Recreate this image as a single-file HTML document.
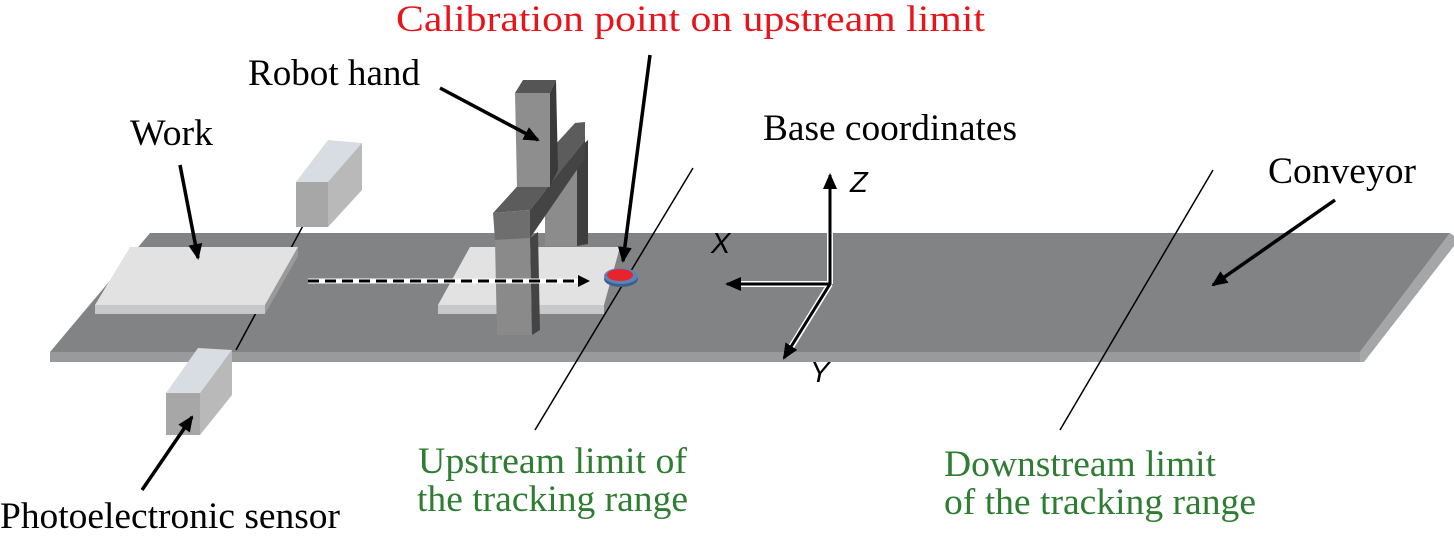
<!DOCTYPE html>
<html><head><style>
html,body{margin:0;padding:0;background:#fff;}
svg{display:block;}
text{font-family:"Liberation Serif",serif;font-size:37px;}
.ax{font-family:"Liberation Sans",sans-serif;font-style:italic;font-size:29px;}
</style></head><body>
<svg width="1454" height="541" viewBox="0 0 1454 541" xmlns="http://www.w3.org/2000/svg">
<defs>
<marker id="ah2" markerWidth="16" markerHeight="14" refX="14" refY="7" orient="auto" markerUnits="userSpaceOnUse">
<path d="M0,0 L16,7 L0,14 z" fill="#000"/></marker>
</defs>
<polygon points="150,233 1450,233 1360,352 50,352" fill="#828385"/>
<polygon points="50,352 1360,352 1360,362 50,362" fill="#999a9c"/>
<polygon points="1450,233 1454,236 1454,246 1364,362 1360,362 1360,352" fill="#a5a6a8"/>
<line x1="305" y1="222" x2="236" y2="350" stroke="#000" stroke-width="1.5"/>
<polygon points="130,247 298,247 265,305 95,305" fill="#e2e2e2"/>
<polygon points="95,305 265,305 265,314 95,314" fill="#c8c8c8"/>
<polygon points="298,247 298,256 265,314 265,305" fill="#9a9a9a"/>
<polygon points="470,247 620,247 604,305 438,305" fill="#e2e2e2"/>
<polygon points="438,305 604,305 604,314 438,314" fill="#c8c8c8"/>
<line x1="693" y1="168" x2="535" y2="430" stroke="#000" stroke-width="1.5"/>
<line x1="1213" y1="170" x2="1060" y2="430" stroke="#000" stroke-width="1.5"/>
<polygon points="296,182 330,182 362,143 328,140" fill="#d8dde4"/>
<polygon points="328,182 362,143 362,190 328,227" fill="#b9b9b9"/>
<rect x="296" y="182" width="32" height="45" fill="#a7a7a7"/>
<polygon points="166,393 200,393 232,350 198,348" fill="#d8dde4"/>
<polygon points="200,393 232,350 232,395 200,435" fill="#b9b9b9"/>
<rect x="166" y="393" width="34" height="42" fill="#a7a7a7"/>
<rect x="545" y="160" width="32" height="86" fill="#8c8c8c"/>
<polygon points="577,150 588,140 588,244 577,246" fill="#3e3e3e"/>
<polygon points="493,213 575,123 585,122 585,140 530,210" fill="#5c5c5c"/>
<polygon points="530,210 585,140 585,158 530,238" fill="#444"/>
<polygon points="493,213 530,210 530,238 495,240" fill="#6e6e6e"/>
<polygon points="495,240 530,238 532,335 497,335" fill="#8a8a8a"/>
<polygon points="530,238 538,232 540,330 532,335" fill="#444"/>
<polygon points="515,93 550,93 550,187 517,187" fill="#8e8e8e"/>
<polygon points="515,93 523,80 556,80 550,93" fill="#555"/>
<polygon points="550,93 556,80 558,170 550,186" fill="#3a3a3a"/>
<ellipse cx="621" cy="279" rx="17" ry="8" fill="#3e5f8a"/>
<ellipse cx="621" cy="276" rx="17" ry="8" fill="#5a84b8"/>
<ellipse cx="620" cy="275" rx="13" ry="6" fill="#e8232a"/>
<line x1="308" y1="281" x2="580" y2="281" stroke="#fff" stroke-width="5"/>
<line x1="308" y1="281" x2="580" y2="281" stroke="#000" stroke-width="3" stroke-dasharray="11,6"/>
<path d="M578,275 L590,281 L578,287 z" fill="#000"/>
<g stroke="#fff" stroke-width="6" fill="none">
<line x1="830" y1="284" x2="830" y2="180"/><line x1="830" y1="284" x2="734" y2="284"/><line x1="830" y1="284" x2="788" y2="352"/>
</g>
<g stroke="#000" stroke-width="3" fill="none">
<line x1="830" y1="284" x2="830" y2="175" marker-end="url(#ah2)"/>
<line x1="830" y1="284" x2="727" y2="284" marker-end="url(#ah2)"/>
<line x1="830" y1="284" x2="784" y2="358" marker-end="url(#ah2)"/>
</g>
<text class="ax" x="850" y="192">Z</text>
<text class="ax" x="711" y="253">X</text>
<text class="ax" x="810" y="382">Y</text>
<g stroke="#000" stroke-width="3.5" fill="none">
<line x1="440" y1="88" x2="538" y2="140" marker-end="url(#ah2)"/>
<line x1="180" y1="165" x2="198" y2="258" marker-end="url(#ah2)"/>
<line x1="650" y1="55" x2="623" y2="261" marker-end="url(#ah2)"/>
<line x1="1335" y1="200" x2="1213" y2="285" marker-end="url(#ah2)"/>
<line x1="142" y1="490" x2="192" y2="417" marker-end="url(#ah2)"/>
</g>
<text x="396" y="31" fill="#e8141c" textLength="589" lengthAdjust="spacingAndGlyphs">Calibration point on upstream limit</text>
<text x="248" y="85" textLength="172" lengthAdjust="spacingAndGlyphs">Robot hand</text>
<text x="130" y="145" textLength="83" lengthAdjust="spacingAndGlyphs">Work</text>
<text x="763" y="140" textLength="254" lengthAdjust="spacingAndGlyphs">Base coordinates</text>
<text x="1268" y="183" textLength="148" lengthAdjust="spacingAndGlyphs">Conveyor</text>
<text x="0" y="528" textLength="340" lengthAdjust="spacingAndGlyphs">Photoelectronic sensor</text>
<text x="418" y="473" fill="#2e7d32" textLength="269" lengthAdjust="spacingAndGlyphs">Upstream limit of</text>
<text x="417" y="511" fill="#2e7d32" textLength="271" lengthAdjust="spacingAndGlyphs">the tracking range</text>
<text x="944" y="476" fill="#2e7d32" textLength="272" lengthAdjust="spacingAndGlyphs">Downstream limit</text>
<text x="944" y="514" fill="#2e7d32" textLength="312" lengthAdjust="spacingAndGlyphs">of the tracking range</text>
</svg>
</body></html>
